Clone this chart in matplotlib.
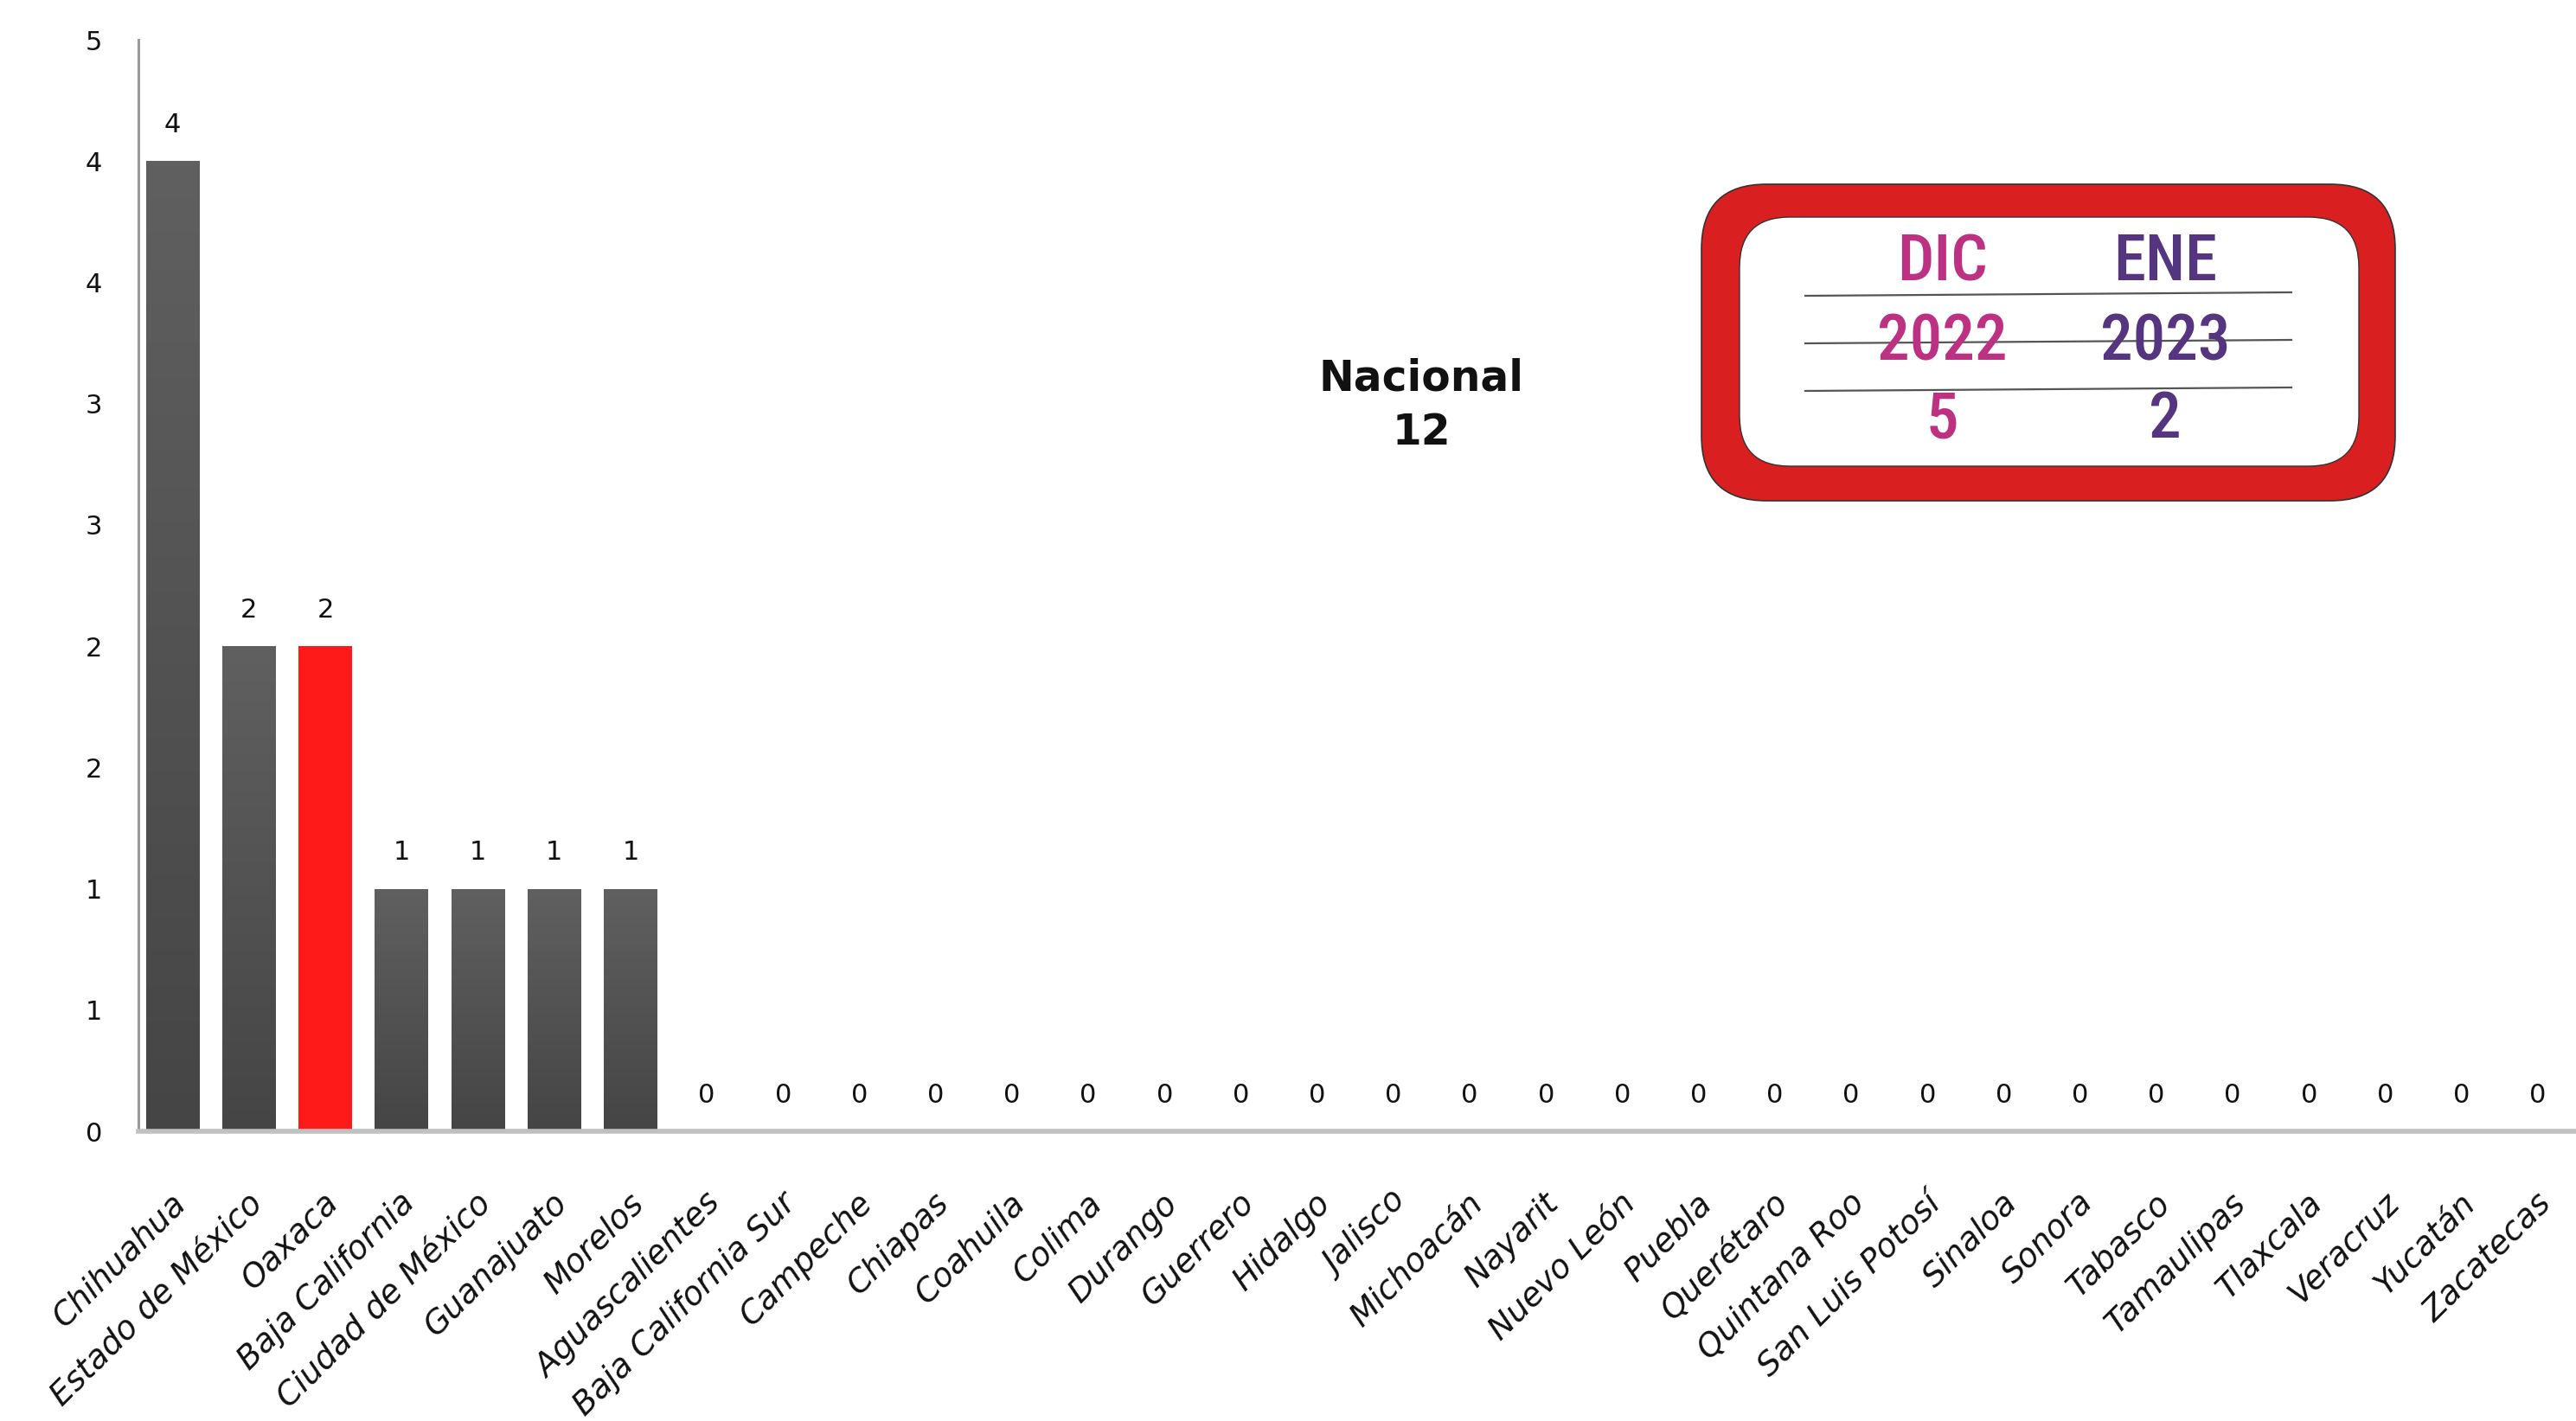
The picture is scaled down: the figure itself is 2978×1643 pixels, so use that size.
import matplotlib
matplotlib.use("Agg")
import matplotlib.pyplot as plt
import matplotlib.transforms as mtransforms
from matplotlib.patches import FancyBboxPatch
from matplotlib.colors import LinearSegmentedColormap
from matplotlib import font_manager
import numpy as np

states = ["Chihuahua", "Estado de México", "Oaxaca", "Baja California", "Ciudad de México",
          "Guanajuato", "Morelos", "Aguascalientes", "Baja California Sur", "Campeche",
          "Chiapas", "Coahuila", "Colima", "Durango", "Guerrero", "Hidalgo", "Jalisco",
          "Michoacán", "Nayarit", "Nuevo León", "Puebla", "Querétaro", "Quintana Roo",
          "San Luis Potosí", "Sinaloa", "Sonora", "Tabasco", "Tamaulipas", "Tlaxcala",
          "Veracruz", "Yucatán", "Zacatecas"]
values = [4, 2, 2, 1, 1, 1, 1] + [0] * 25
highlight = "Oaxaca"

ytick_vals = [0, 0.5, 1, 1.5, 2, 2.5, 3, 3.5, 4, 4.5]
ytick_labels = ["0", "1", "1", "2", "2", "3", "3", "4", "4", "5"]

months = ["DIC", "ENE"]
years = ["2022", "2023"]
totals = [5, 2]
month_colors = ["#BD3183", "#55357F"]
nacional = 12

W, H = 2978, 1643
fig = plt.figure(figsize=(W / 100, H / 100), dpi=100)
ax = fig.add_axes([160 / W, 1 - 1308 / H, 1 - 160 / W, (1308 - 46) / H])

x = np.arange(len(states))
colors = ["#FF1A1A" if s == highlight else "#555555" for s in states]
bars = ax.bar(x, values, width=0.7, color=colors, zorder=2)

gray_cmap = LinearSegmentedColormap.from_list("g", ["#454545", "#606060"])
grad = np.linspace(0, 1, 256).reshape(-1, 1)
for b, s in zip(bars, states):
    if s == highlight or b.get_height() == 0:
        continue
    im = ax.imshow(grad, extent=[b.get_x(), b.get_x() + b.get_width(), 0, b.get_height()],
                   cmap=gray_cmap, aspect="auto", origin="lower", zorder=2.5)
    im.set_clip_path(b)

for xi, v in zip(x, values):
    ax.annotate(str(v), (xi, v), xytext=(0, 30), textcoords="offset points",
                ha="center", va="center", fontsize=22, color="#111111")

ax.set_xlim(-0.45, len(states) - 0.5)
ax.set_ylim(0, 4.5)
ax.set_yticks(ytick_vals)
ax.set_yticklabels(ytick_labels, fontsize=22, color="#111111", fontweight="medium")
ax.set_xticks(x)
ax.set_xticklabels(states, rotation=45, ha="right", va="center", rotation_mode="anchor",
                   fontsize=27, fontstyle="italic", color="#111111")
ax.tick_params(axis="y", length=0, pad=30)
ax.tick_params(axis="x", length=0, pad=56)
shift = mtransforms.ScaledTranslation(10 / 100, 0, fig.dpi_scale_trans)
for lab in ax.get_xticklabels():
    lab.set_transform(lab.get_transform() + shift)

for side in ["top", "right"]:
    ax.spines[side].set_visible(False)
ax.spines["left"].set_color("#9a9a9a")
ax.spines["left"].set_linewidth(2.2)
ax.spines["bottom"].set_color("#c0c0c0")
ax.spines["bottom"].set_linewidth(4)

# overlay in pixel coordinates
ov = fig.add_axes([0, 0, 1, 1], zorder=5)
ov.set_xlim(0, W)
ov.set_ylim(H, 0)
ov.axis("off")
ov.patch.set_alpha(0)

ov.text(1643, 438, "Nacional", ha="center", va="center", fontsize=35, fontweight="bold", color="#111111")
ov.text(1643, 500, str(nacional), ha="center", va="center", fontsize=35, fontweight="bold", color="#111111")

outer = FancyBboxPatch((1967, 213), 2769 - 1967, 579 - 213,
                       boxstyle="round,pad=0,rounding_size=75",
                       facecolor="#DA1F21", edgecolor="#333333", linewidth=1.2)
inner = FancyBboxPatch((2011, 251), 2727 - 2011, 539 - 251,
                       boxstyle="round,pad=0,rounding_size=58",
                       facecolor="white", edgecolor="#333333", linewidth=1.0)
ov.add_patch(outer)
ov.add_patch(inner)

for ly in [340, 395, 450]:
    ov.plot([2087, 2649], [ly + 2, ly - 2], color="#555555", linewidth=1.6)

# pick a narrow face if one is installed
names = {f.name for f in font_manager.fontManager.ttflist}
box_font = [n for n in ["Liberation Sans Narrow", "DejaVu Sans Condensed", "Roboto Condensed",
                        "Open Sans Condensed"] if n in names] + ["DejaVu Sans"]
cols_x = [2245, 2503]
for cx, m, yr, t, c in zip(cols_x, months, years, totals, month_colors):
    for yy, s in [(304, m), (396, yr), (486, str(t))]:
        ov.text(cx, yy, s, ha="center", va="center", fontsize=54, color=c,
                family=box_font, fontstretch="condensed", fontweight="medium")

fig.savefig("out.png", dpi=100, facecolor="white")
